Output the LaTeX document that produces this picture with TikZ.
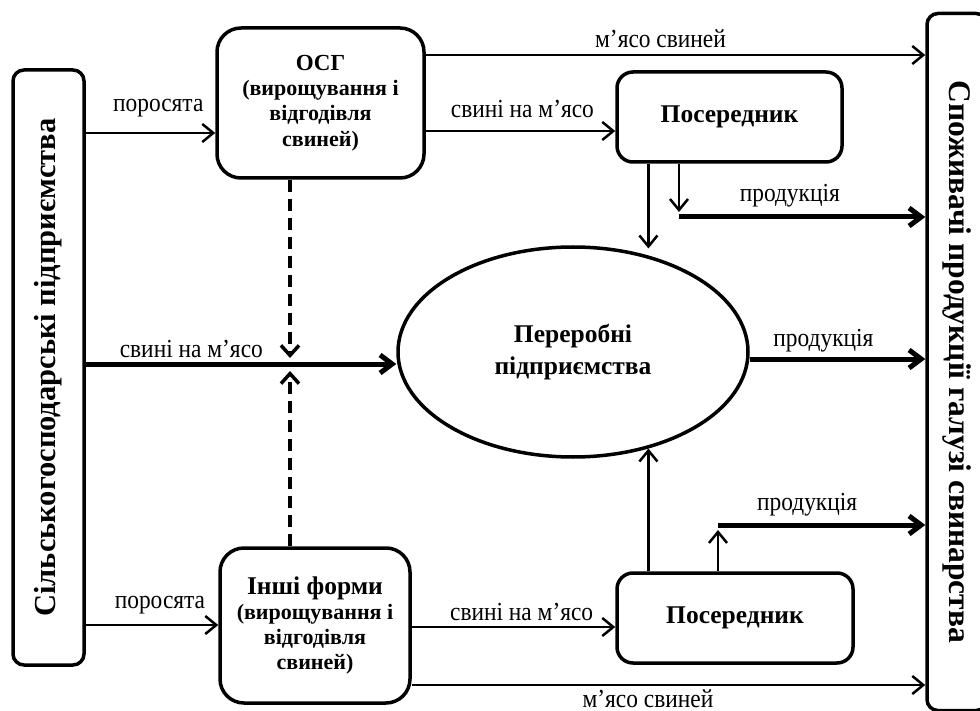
\documentclass[tikz,border=0pt]{standalone}
\usepackage{fontspec}
\setmainfont{Liberation Serif}
\newfontfamily\lblfont[FakeStretch=0.9]{Liberation Serif}
\usetikzlibrary{shapes.geometric, arrows.meta}
\tikzstyle{sideblock} = [rectangle, rounded corners=11pt, line width=3.5pt, draw=black, inner sep=0pt, font=\bfseries\fontsize{30.5}{34}\selectfont]
\tikzstyle{farmbox} = [rectangle, rounded corners=24pt, minimum height=150pt, line width=3.5pt, draw=black, align=center, inner sep=0pt, font=\bfseries\fontsize{22}{25.3}\selectfont]
\tikzstyle{midbox} = [rectangle, rounded corners=16pt, minimum height=90pt, line width=3.5pt, draw=black, font=\bfseries\fontsize{25.5}{28}\selectfont]
\tikzstyle{procell} = [ellipse, minimum width=350pt, minimum height=210pt, line width=3.5pt, draw=black, align=center, inner sep=0pt, font=\bfseries\fontsize{25.5}{32}\selectfont]
\tikzstyle{arrow} = [line width=2.5pt, -{Straight Barb[length=11pt,width=18pt]}]
\tikzstyle{bigarrow} = [line width=5pt, -{Straight Barb[length=12pt,width=18pt]}]
\tikzstyle{dasharrow} = [line width=3.5pt, dash pattern=on 12pt off 7pt, -{Straight Barb[length=10pt,width=18pt]}]
\tikzstyle{flowlbl} = [font=\lblfont\fontsize{26}{29}\selectfont, inner sep=0pt, anchor=base]

\begin{document}
\begin{tikzpicture}[x=1pt, y=-1pt]
	\useasboundingbox (0,0) rectangle (980,711);
	\clip (0,0) rectangle (980,711);
	% blocks
	\node (farms) [sideblock, minimum width=71pt, minimum height=595pt] at (48.5,367.5) {\rotatebox{90}{Сільськогосподарські підприємства}};
	\node (cons) [sideblock, minimum width=60pt, minimum height=697pt, font=\bfseries\fontsize{31.5}{34}\selectfont] at (957,362) {\rotatebox{-90}{Споживачі продукції галузі свинарства}};
	\node (osg) [farmbox, minimum width=207pt] at (320.5,103) {{\fontsize{23}{26}\selectfont ОСГ}\\(вирощування і\\відгодівля\\свиней)};
	\node (other) [farmbox, minimum width=190pt, minimum height=155pt] at (315,625.5) {{\fontsize{25.5}{27}\selectfont Інші форми}\\(вирощування і\\відгодівля\\свиней)};
	\node (medtop) [midbox, minimum width=225pt] at (729.5,117) {Посередник};
	\node (meddown) [midbox, minimum width=236pt] at (735,618) {Посередник};
	\node (proc) [procell] at (573,352) {Переробні\\підприємства};
	\coordinate (prodtop) at (679,217);
	\coordinate (prodbot) at (718,525);
	\coordinate (dashtop) at (290,358);
	\coordinate (dashbot) at (290,371);
	% upper flows
	\draw [arrow] (farms.east |- 0,133) -- node [flowlbl, yshift=21pt, pos=0.56] {поросята} (osg.west |- 0,133);
	\draw [arrow] (osg.east |- 0,55) -- node [flowlbl, yshift=7pt, pos=0.47] {м’ясо свиней} (cons.west |- 0,55);
	\draw [arrow] (osg.east |- 0,131) -- node [flowlbl, yshift=13pt, pos=0.51] {свині на м’ясо} (medtop.west |- 0,131);
	\draw [arrow] (medtop.south -| proc.52) -- ([yshift=7pt]proc.52);
	\draw [arrow] (medtop.south -| prodtop) -- ([yshift=5pt]prodtop);
	\draw [bigarrow] (prodtop) -- node [flowlbl, yshift=15pt, pos=0.45] {продукція} (cons.west |- prodtop);
	% middle flows
	\draw [bigarrow] (farms.east |- 0,364) -- node [flowlbl, yshift=7pt, pos=0.34] {свині на м’ясо} (proc.west |- 0,364);
	\draw [bigarrow] (proc.east |- 0,359) -- node [flowlbl, yshift=13pt, pos=0.42] {продукція} (cons.west |- 0,359);
	\draw [dasharrow] (osg.south -| dashtop) -- (dashtop);
	\draw [dasharrow] (other.north -| dashbot) -- (dashbot);
	% lower flows
	\draw [arrow] (farms.east |- 0,625) -- node [flowlbl, yshift=17pt, pos=0.56] {поросята} (other.west |- 0,625);
	\draw [arrow] (other.east |- 0,627) -- node [flowlbl, yshift=7pt, pos=0.54] {свині на м’ясо} (meddown.west |- 0,627);
	\draw [arrow] (other.east |- 0,685) -- node [flowlbl, yshift=-22pt, pos=0.46] {м’ясо свиней} (cons.west |- 0,685);
	\draw [arrow] (meddown.north -| proc.-52) -- (proc.-52);
	\draw [arrow] (meddown.north -| prodbot) -- ([yshift=-5pt]prodbot);
	\draw [bigarrow] (prodbot) -- node [flowlbl, yshift=15pt, pos=0.43] {продукція} (cons.west |- prodbot);
\end{tikzpicture}
\end{document}
